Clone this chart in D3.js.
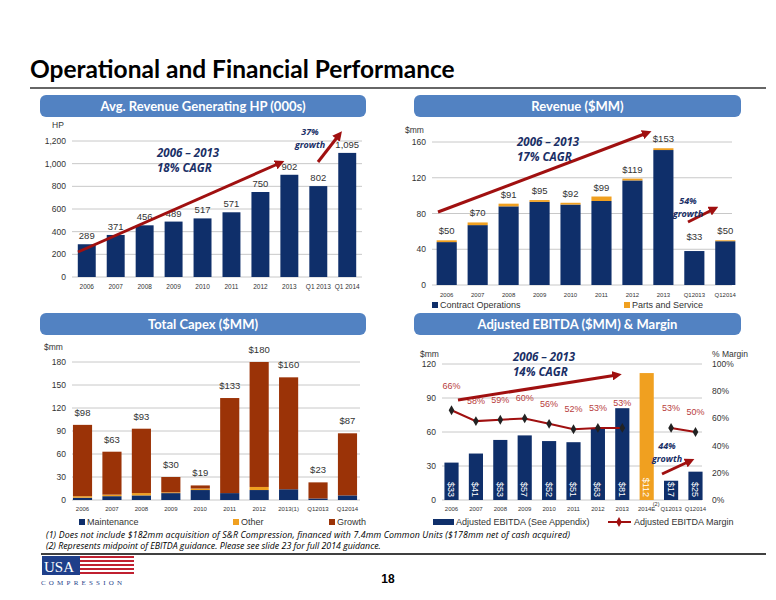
<!DOCTYPE html>
<html><head><meta charset="utf-8">
<script src="https://cdn.jsdelivr.net/npm/d3@7"></script>
<style>body{margin:0;background:#fff}svg{display:block}</style>
</head><body>
<svg id="s" width="776" height="600"></svg>
<script>
// ---- data ----
const hpCats = ["2006","2007","2008","2009","2010","2011","2012","2013","Q1 2013","Q1 2014"];
const hpVals = [289,371,456,489,517,571,750,902,802,1095];
const hpLabels = ["289","371","456","489","517","571","750","902","802","1,095"];

const revCats = ["2006","2007","2008","2009","2010","2011","2012","2013","Q12013","Q12014"];
const revContract = [48,67,88,93,90,94,117,151,38,49];
const revParts = [2,3,3,2,2,5,2,2,0,1];
const revLabels = ["$50","$70","$91","$95","$92","$99","$119","$153","$33","$50"];

const capCats = ["2006","2007","2008","2009","2010","2011","2012","2013(1)","Q12013","Q12014"];
const capMaint = [3,5,6,9,13,9,13,14,2,6];
const capOther = [2,2,3,1,2,0,4,0,0,0];
const capGrowth = [93,56,84,20,4,124,163,146,21,81];
const capLabels = ["$98","$63","$93","$30","$19","$133","$180","$160","$23","$87"];

const ebCats = ["2006","2007","2008","2009","2010","2011","2012","2013","2014E","Q12013","Q12014"];
const ebVals = [33,41,53,57,52,51,63,81,112,17,25];
const ebMargin = [66,58,59,60,56,52,53,53,null,53,50];

const hpTicks = [0,200,400,600,800,1000,1200];
const revTicks = [0,40,80,120,160];
const capTicks = [0,30,60,90,120,150,180];
const ebTicks = [0,30,60,90,120];
const mTicks = [0,20,40,60,80,100];

const NAVY="#0f2f6a", ORANGE="#f0a020", BROWN="#9b3307", RED="#a01010", TXT="#333", CAGR="#1a2f66";
const F="'Liberation Sans', Arial, sans-serif";
const svg=d3.select("#s");

// ---- slide chrome ----
svg.append("text").attr("x",30).attr("y",78).attr("font-family","Lato, 'Open Sans', sans-serif")
  .attr("font-weight","bold").attr("font-size",24.5).attr("fill","#000").text("Operational and Financial Performance");
svg.append("line").attr("x1",30).attr("x2",766).attr("y1",88).attr("y2",88).attr("stroke","#666").attr("stroke-width",2);

function header(x,y,w,t){
  svg.append("rect").attr("x",x).attr("y",y).attr("width",w).attr("height",22).attr("rx",6)
    .attr("fill","#5282c2");
  svg.append("text").attr("x",x+w/2).attr("y",y+15.5).attr("text-anchor","middle")
    .attr("font-family","Lato, 'Open Sans', sans-serif").attr("font-weight","bold").attr("font-size",13)
    .attr("fill","#fff").text(t);
}
header(40,95,326,"Avg. Revenue Generating HP (000s)");
header(414,95,327,"Revenue ($MM)");
header(40,313,326,"Total Capex ($MM)");
header(414,313,327,"Adjusted EBITDA ($MM) & Margin");

svg.append("defs").append("marker").attr("id","ah").attr("viewBox","0 0 10 10").attr("refX",5).attr("refY",5)
  .attr("markerWidth",3.2).attr("markerHeight",3.2).attr("orient","auto")
  .append("path").attr("d","M0,0 L10,5 L0,10 z").attr("fill",RED);
function arrow(x1,y1,x2,y2){
  svg.append("line").attr("x1",x1).attr("y1",y1).attr("x2",x2).attr("y2",y2)
    .attr("stroke",RED).attr("stroke-width",3).attr("marker-end","url(#ah)");
}
function note(x,y,lines,anchor,big){
  lines.forEach((l,i)=>svg.append("text").attr("x",x).attr("y",y+i*(big?15:13)).attr("text-anchor",anchor||"start")
    .attr("font-family","'Open Sans', sans-serif").attr("font-style","italic").attr("font-weight","bold")
    .attr("font-size",big?11.5:9).attr("fill",CAGR).text(l));
}
function yAxis(y,ticks,x0,x1,fmt){
  const g=svg.append("g");
  ticks.forEach(t=>{
    g.append("line").attr("x1",x0).attr("x2",x1).attr("y1",y(t)).attr("y2",y(t)).attr("stroke","#c8c8c8");
    g.append("text").attr("x",x0-6).attr("y",y(t)+3).attr("text-anchor","end").attr("font-family",F)
      .attr("font-size",8.5).attr("fill",TXT).text(fmt(t));
  });
}
function xLabels(x,cats,y,fs){
  cats.forEach(c=>svg.append("text").attr("x",x(c)+x.bandwidth()/2).attr("y",y).attr("text-anchor","middle")
    .attr("font-family",F).attr("font-size",fs||6.5).attr("fill",TXT).text(c));
}
function small(x,y,t,a){svg.append("text").attr("x",x).attr("y",y).attr("text-anchor",a||"start").attr("font-family",F).attr("font-size",8.5).attr("fill",TXT).text(t);}
function legendItem(x,y,color,t){
  svg.append("rect").attr("x",x).attr("y",y-6).attr("width",6).attr("height",6).attr("fill",color);
  svg.append("text").attr("x",x+8).attr("y",y).attr("font-family",F).attr("font-size",9).attr("fill",TXT).text(t);
}

// ---- Chart 1: HP ----
{
  const x=d3.scaleBand().domain(hpCats).range([72,362]).paddingInner(0.38).paddingOuter(0.2);
  const y=d3.scaleLinear().domain([0,1200]).range([277,141]);
  yAxis(y,hpTicks,72,362,d3.format(","));
  small(58,128,"HP","middle");
  svg.selectAll(".hb").data(hpVals).join("rect").attr("x",(d,i)=>x(hpCats[i])).attr("width",x.bandwidth())
    .attr("y",d=>y(d)).attr("height",d=>y(0)-y(d)).attr("fill",NAVY);
  hpLabels.forEach((l,i)=>svg.append("text").attr("x",x(hpCats[i])+x.bandwidth()/2).attr("y",y(hpVals[i])-5)
    .attr("text-anchor","middle").attr("font-family",F).attr("font-size",9.5).attr("fill",TXT).text(l));
  xLabels(x,hpCats,289);
  arrow(78,252,280,163); arrow(318,162,339,135);
  note(157,157,["2006 – 2013","18% CAGR"],"start",true);
  note(310,135,["37%","growth"],"middle");
}
// ---- Chart 2: Revenue ----
{
  const x=d3.scaleBand().domain(revCats).range([432,740]).paddingInner(0.35).paddingOuter(0.15);
  const y=d3.scaleLinear().domain([0,160]).range([285,142]);
  yAxis(y,revTicks,432,732,d3.format("d"));
  small(405,133,"$mm");
  revCats.forEach((c,i)=>{
    svg.append("rect").attr("x",x(c)).attr("width",x.bandwidth()).attr("y",y(revContract[i])).attr("height",y(0)-y(revContract[i])).attr("fill",NAVY);
    svg.append("rect").attr("x",x(c)).attr("width",x.bandwidth()).attr("y",y(revContract[i]+revParts[i])).attr("height",y(0)-y(revParts[i])).attr("fill",ORANGE);
    const top = i===8?44:revContract[i]+revParts[i];
    svg.append("text").attr("x",x(c)+x.bandwidth()/2).attr("y",y(top)-6).attr("text-anchor","middle")
      .attr("font-family",F).attr("font-size",9.5).attr("fill",TXT).text(revLabels[i]);
  });
  xLabels(x,revCats,297,6);
  legendItem(432,308,NAVY,"Contract Operations"); legendItem(624,308,ORANGE,"Parts and Service");
  arrow(438,212,647,133); arrow(688,222,714,209);
  note(517,146,["2006 – 2013","17% CAGR"],"start",true);
  note(688,204,["54%","growth"],"middle");
}
// ---- Chart 3: Capex ----
{
  const x=d3.scaleBand().domain(capCats).range([70,360]).paddingInner(0.35).paddingOuter(0.1);
  const y=d3.scaleLinear().domain([0,180]).range([500,362]);
  yAxis(y,capTicks,72,360,d3.format("d"));
  small(44,350,"$mm");
  capCats.forEach((c,i)=>{
    let b=0;
    [[capMaint[i],NAVY],[capOther[i],ORANGE],[capGrowth[i],BROWN]].forEach(([v,col])=>{
      svg.append("rect").attr("x",x(c)).attr("width",x.bandwidth()).attr("y",y(b+v)).attr("height",y(0)-y(v)).attr("fill",col);
      b+=v;
    });
    svg.append("text").attr("x",x(c)+x.bandwidth()/2).attr("y",y(b)-9).attr("text-anchor","middle")
      .attr("font-family",F).attr("font-size",9.5).attr("fill",TXT).text(capLabels[i]);
  });
  xLabels(x,capCats,511,6);
  legendItem(79,525,NAVY,"Maintenance"); legendItem(233,525,ORANGE,"Other"); legendItem(329,525,BROWN,"Growth");
}
// ---- Chart 4: EBITDA ----
{
  const x=d3.scaleBand().domain(ebCats).range([442,705]).paddingInner(0.42).paddingOuter(0.1);
  const y=d3.scaleLinear().domain([0,120]).range([500,364]);
  const y2=d3.scaleLinear().domain([0,100]).range([500,364]);
  ebTicks.forEach(t=>{
    svg.append("line").attr("x1",442).attr("x2",702).attr("y1",y(t)).attr("y2",y(t)).attr("stroke","#c8c8c8");
    svg.append("text").attr("x",436).attr("y",y(t)+3).attr("text-anchor","end").attr("font-family",F).attr("font-size",8.5).attr("fill",TXT).text(t);
  });
  mTicks.forEach(t=>svg.append("text").attr("x",712).attr("y",y2(t)+3).attr("font-family",F).attr("font-size",8.5).attr("fill",TXT).text(t+"%"));
  small(420,357,"$mm"); small(712,357,"% Margin");
  ebCats.forEach((c,i)=>{
    const v=ebVals[i];
    svg.append("rect").attr("x",x(c)).attr("width",x.bandwidth()).attr("y",y(v)).attr("height",y(0)-y(v)).attr("fill",c==="2014E"?ORANGE:NAVY);
    const cx=x(c)+x.bandwidth()/2, cy=y(0)-3;
    svg.append("text").attr("transform",`translate(${cx-3.5},${cy}) rotate(90)`).attr("text-anchor","end")
      .attr("font-family",F).attr("font-size",9).attr("fill","#fff").text("$"+v);
  });
  svg.append("text").attr("x",x("2014E")+x.bandwidth()-1).attr("y",506).attr("font-family",F).attr("font-size",5.5).attr("fill",TXT).text("(2)");
  const pts=ebCats.map((c,i)=>({c,m:ebMargin[i]}));
  const line=d3.line().defined(d=>d.m!==null).x(d=>x(d.c)+x.bandwidth()/2).y(d=>y2(d.m));
  svg.append("path").attr("d",line(pts)).attr("fill","none").attr("stroke",RED).attr("stroke-width",2);
  pts.filter(d=>d.m!==null).forEach((d,i)=>{
    const cx=x(d.c)+x.bandwidth()/2, cy=y2(d.m);
    svg.append("path").attr("d",d3.symbol(d3.symbolDiamond,28)()).attr("transform",`translate(${cx},${cy})`).attr("fill","#222");
    const off = d.c==="2013"?22:17;
    svg.append("text").attr("x",cx).attr("y",cy-off+ (d.c==="2006"?-4:0)).attr("text-anchor","middle").attr("font-family",F)
      .attr("font-size",9).attr("fill","#b84040").text(d.m+"%");
  });
  xLabels(x,ebCats,511,6);
  svg.append("rect").attr("x",433).attr("y",519).attr("width",21).attr("height",6).attr("fill",NAVY);
  svg.append("text").attr("x",456).attr("y",525).attr("font-family",F).attr("font-size",9).attr("fill",TXT).text("Adjusted EBITDA (See Appendix)");
  svg.append("line").attr("x1",608).attr("x2",631).attr("y1",522).attr("y2",522).attr("stroke",RED).attr("stroke-width",2);
  svg.append("path").attr("d",d3.symbol(d3.symbolDiamond,28)()).attr("transform","translate(619,522)").attr("fill",RED);
  svg.append("text").attr("x",634).attr("y",525).attr("font-family",F).attr("font-size",9).attr("fill",TXT).text("Adjusted EBITDA Margin");
  arrow(458,400,617,375); arrow(662,474,690,461);
  note(513,361,["2006 – 2013","14% CAGR"],"start",true);
  note(667,449,["44%","growth"],"middle");
}
// ---- footer ----
const fn=["(1)   Does not include $182mm acquisition of S&R Compression, financed with 7.4mm Common Units ($178mm net of cash acquired)",
          "(2)   Represents midpoint of EBITDA guidance. Please see slide 23 for full 2014 guidance."];
fn.forEach((t,i)=>svg.append("text").attr("x",46).attr("y",538+i*11).attr("font-family","'Open Sans', sans-serif")
  .attr("font-style","italic").attr("font-size",8.8).attr("textLength",i===0?524:null).attr("fill","#000").text(t));
svg.append("line").attr("x1",41).attr("x2",766).attr("y1",554).attr("y2",554).attr("stroke","#000").attr("stroke-width",1.5);
// logo
svg.append("rect").attr("x",42).attr("y",556).attr("width",38).attr("height",19).attr("fill","#1f3f8a");
for(let k=0;k<5;k++){svg.append("rect").attr("x",80).attr("y",556+k*4).attr("width",54).attr("height",2).attr("fill","#c02030");
 svg.append("rect").attr("x",80).attr("y",558+k*4).attr("width",54).attr("height",2).attr("fill","#fff");}
svg.append("text").attr("x",44).attr("y",572).attr("font-family","'Liberation Serif', serif").attr("font-size",15).attr("fill","#fff").text("USA");
svg.append("text").attr("x",41).attr("y",585).attr("font-family","'Liberation Serif', serif").attr("font-size",7).attr("letter-spacing",3.2).attr("fill","#1f3f8a").text("COMPRESSION");
svg.append("text").attr("x",388).attr("y",583).attr("text-anchor","middle").attr("font-family",F).attr("font-weight","bold").attr("font-size",12).attr("fill","#000").text("18");
</script></body></html>
